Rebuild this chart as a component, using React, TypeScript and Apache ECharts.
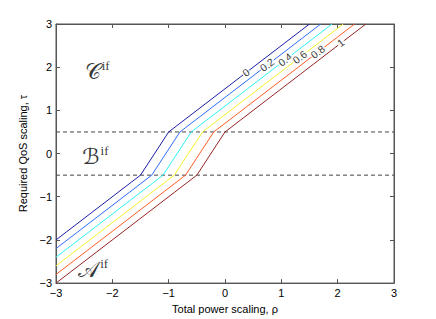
import React, { useEffect, useRef } from "react";
import * as echarts from "echarts";

const levels = ["0", "0.2", "0.4", "0.6", "0.8", "1"];
const lineColors = ["#1c1ca6", "#2e6cff", "#2ef2f2", "#f2f22a", "#ff5c26", "#962424"];
// vertices of each contour (rho, tau)
const contour0 = [[-3, -2], [-1.5, -0.5], [-1, 0.5], [1.5, 3]];
const contour02 = [[-3, -2.2], [-1.3, -0.5], [-0.8, 0.5], [1.7, 3]];
const contour04 = [[-3, -2.4], [-1.1, -0.5], [-0.6, 0.5], [1.9, 3]];
const contour06 = [[-3, -2.6], [-0.9, -0.5], [-0.4, 0.5], [2.1, 3]];
const contour08 = [[-3, -2.8], [-0.7, -0.5], [-0.2, 0.5], [2.3, 3]];
const contour1 = [[-3, -3], [-0.5, -0.5], [0, 0.5], [2.5, 3]];
const contours = [contour0, contour02, contour04, contour06, contour08, contour1];
// contour label positions (rho, tau)
const labelRho = [0.375, 0.75, 1.07, 1.33, 1.65, 2.06];
const labelTau = [1.875, 2.05, 2.17, 2.23, 2.35, 2.56];
const boundaries = [0.5, -0.5];
const regionNames = ["C", "B", "A"];
const regionRho = [-2.27, -2.3, -2.34];
const regionTau = [1.89, -0.07, -2.68];
const ticks = [-3, -2, -1, 0, 1, 2, 3];

const FONT = "Liberation Sans, Arial, sans-serif";
const scriptMap: Record<string, string> = { C: "𝒞", B: "ℬ", A: "𝒜" };

export default function App() {
  const ref = useRef<HTMLDivElement>(null);
  useEffect(() => {
    const chart = echarts.init(ref.current!, null, { renderer: "svg" });
    const axisCommon = {
      type: "value",
      min: -3,
      max: 3,
      interval: 1,
      splitLine: { show: false },
      axisLine: { show: true, onZero: false, lineStyle: { color: "#555", width: 1 } },
      axisTick: { show: true, inside: true, length: 4, lineStyle: { color: "#555" } },
    };
    const fmt = (v: number) => (v < 0 ? "−" + Math.abs(v) : String(v));
    const series: any[] = [];
    contours.forEach((c, i) => {
      series.push({
        type: "line",
        name: levels[i],
        data: c,
        symbol: "none",
        lineStyle: { color: lineColors[i], width: 1 },
        z: 2,
      });
    });
    boundaries.forEach((b) => {
      series.push({
        type: "line",
        data: [[ticks[0], b], [ticks[ticks.length - 1], b]],
        symbol: "none",
        lineStyle: { color: "#444", width: 1, type: [4, 3] },
        z: 1,
      });
    });
    series.push({
      type: "scatter",
      data: levels.map((l, i) => [labelRho[i], labelTau[i], l]),
      symbolSize: 0,
      z: 5,
      label: {
        show: true,
        position: "inside",
        formatter: (p: any) => p.value[2],
        rotate: 37.6,
        fontFamily: FONT,
        fontSize: 10.5,
        color: "#000",
        backgroundColor: "#fff",
        padding: [0, 1],
      },
    });
    series.push({
      type: "scatter",
      data: regionNames.map((r, i) => [regionRho[i], regionTau[i], r]),
      symbolSize: 0,
      z: 5,
      label: {
        show: true,
        position: "inside",
        formatter: (p: any) => "{m|" + scriptMap[p.value[2]] + "}{s|if}",
        rich: {
          m: { fontFamily: "DejaVu Sans, DejaVu Serif, serif", fontSize: 22, color: "#000" },
          s: { fontFamily: "Liberation Serif, Times New Roman, serif", fontSize: 13, color: "#000", verticalAlign: "top", padding: [0, 0, 12, 1] },
        },
      },
    });
    chart.setOption({
      animation: false,
      backgroundColor: "#fff",
      grid: { left: 56, right: 42, top: 24, bottom: 35, show: true, borderColor: "#555", borderWidth: 1, backgroundColor: "#fff" },
      xAxis: [
        {
          ...axisCommon,
          position: "bottom",
          name: "Total power scaling, ρ",
          nameLocation: "middle",
          nameGap: 15,
          nameTextStyle: { fontFamily: FONT, fontSize: 11, color: "#000" },
          axisLabel: { fontFamily: FONT, fontSize: 11, color: "#000", margin: 4, formatter: fmt },
        },
        { ...axisCommon, position: "top", axisLabel: { show: false } },
      ],
      yAxis: [
        {
          ...axisCommon,
          position: "left",
          name: "Required QoS scaling, τ",
          nameLocation: "middle",
          nameGap: 18,
          nameTextStyle: { fontFamily: FONT, fontSize: 11, color: "#000" },
          axisLabel: { fontFamily: FONT, fontSize: 11, color: "#000", margin: 4, formatter: fmt },
        },
        { ...axisCommon, position: "right", axisLabel: { show: false } },
      ],
      series,
    });
    return () => chart.dispose();
  }, []);
  return <div ref={ref} style={{ width: 436, height: 319, position: "absolute", left: 0, top: 0 }} />;
}
